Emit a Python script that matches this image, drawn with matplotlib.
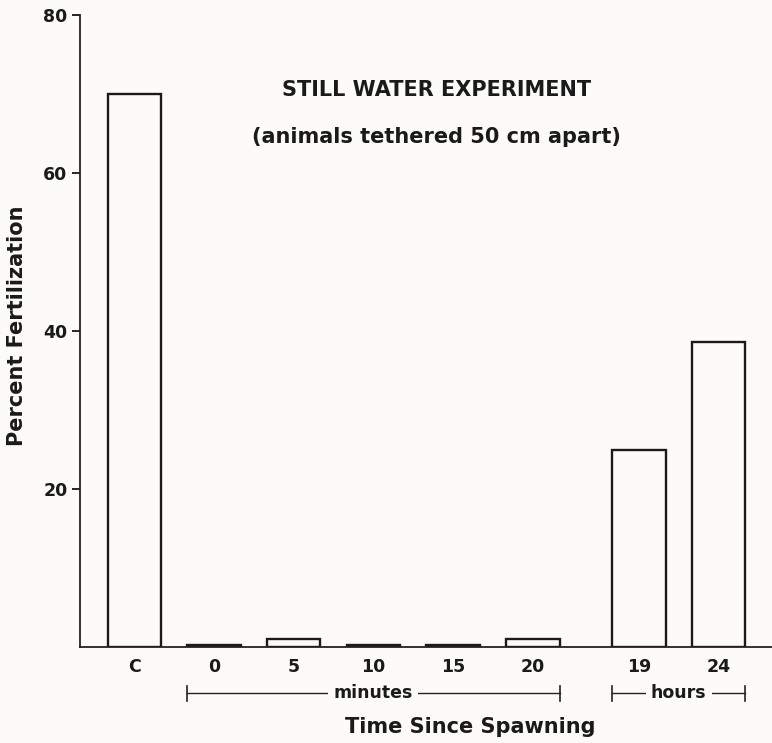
import numpy as np
import matplotlib.pyplot as plt
from matplotlib.transforms import blended_transform_factory

# Datos
etiquetas = ['C', '0', '5', '10', '15', '20', '19', '24']
fertilizacion = [70.0, 0.2, 1.0, 0.2, 0.2, 1.0, 25.0, 38.6]
grupo = ['control', 'minutes', 'minutes', 'minutes', 'minutes', 'minutes', 'hours', 'hours']
yticks = [20, 40, 60, 80]

fondo = '#fcfbf8'
tinta = '#1a1a1a'
plt.rcParams['font.family'] = ['DejaVu Sans']
plt.rcParams['font.weight'] = 'bold'
plt.rcParams['axes.labelweight'] = 'bold'

fig = plt.figure(figsize=(7.72, 7.43), dpi=100, facecolor=fondo)
ax = fig.add_axes([80 / 772, 96 / 743, 692 / 772, 632 / 743])
ax.set_facecolor(fondo)

# posiciones: separacion extra antes del grupo de horas
pos = np.arange(len(etiquetas), dtype=float)
pos[np.array(grupo) == 'hours'] += 0.33
ancho = 0.67

ax.bar(pos, fertilizacion, width=ancho, facecolor=fondo, edgecolor=tinta, linewidth=1.7)

ax.set_xlim(-0.68, 8.0)
ax.set_ylim(0, 80)
ax.set_yticks(yticks)
ax.set_xticks(pos)
ax.set_xticklabels(etiquetas, fontsize=12.5, color=tinta)
ax.tick_params(axis='x', length=0, pad=8)
ax.tick_params(axis='y', length=6, width=1.2, pad=3, labelsize=12.5, labelcolor=tinta)
for s in ['top', 'right']:
    ax.spines[s].set_visible(False)
for s in ['left', 'bottom']:
    ax.spines[s].set_linewidth(1.3)
    ax.spines[s].set_color('#222222')

ax.set_ylabel('Percent Fertilization', fontsize=15, color=tinta)
ax.yaxis.set_label_coords(-0.077, 0.508)
ax.set_xlabel('Time Since Spawning', fontsize=15, color=tinta)
ax.xaxis.set_label_coords(0.564, -0.11)

# brackets de minutos y horas
tr = blended_transform_factory(ax.transData, ax.transAxes)
y_br = -0.073
for nombre in ['minutes', 'hours']:
    idx = [i for i, g in enumerate(grupo) if g == nombre]
    x0 = pos[idx[0]] - ancho / 2
    x1 = pos[idx[-1]] + ancho / 2
    ax.plot([x0, x1], [y_br, y_br], color='#222222', lw=1.0, transform=tr, clip_on=False)
    for xe in (x0, x1):
        ax.plot([xe, xe], [y_br - 0.012, y_br + 0.012], color='#222222', lw=1.2,
                transform=tr, clip_on=False)
    ax.text((x0 + x1) / 2, y_br, nombre, transform=tr, ha='center', va='center', fontsize=12.5,
            color=tinta, bbox=dict(boxstyle='square,pad=0.3', facecolor=fondo, edgecolor='none'))

ax.text(0.515, 0.881, 'STILL WATER EXPERIMENT', transform=ax.transAxes, ha='center',
        va='center', fontsize=15, color=tinta)
ax.text(0.515, 0.807, '(animals tethered 50 cm apart)', transform=ax.transAxes, ha='center',
        va='center', fontsize=15, color=tinta)

fig.savefig('out.png', dpi=100, facecolor=fondo)
